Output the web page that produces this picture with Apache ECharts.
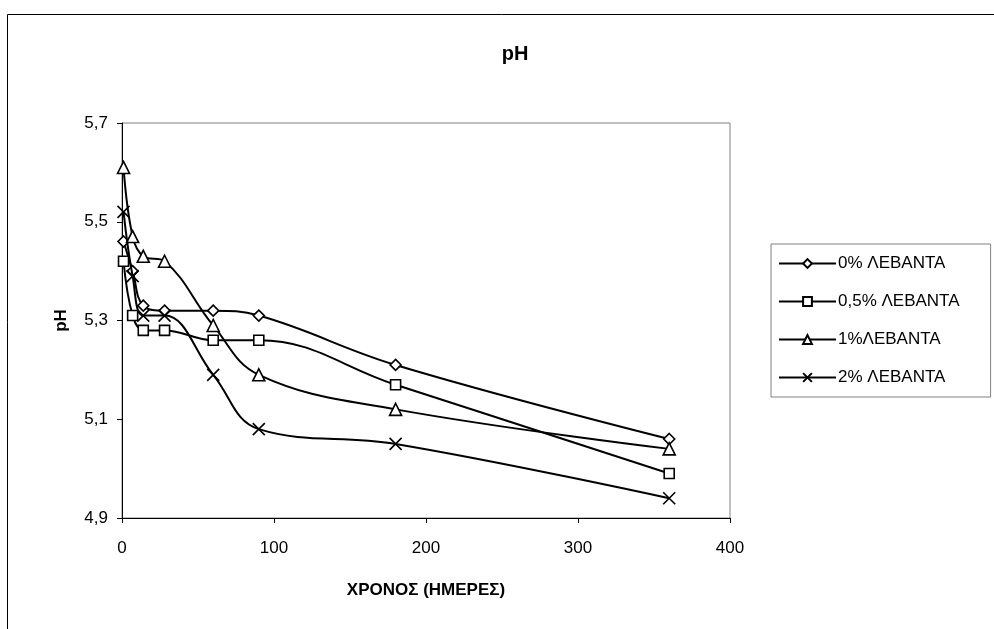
<!DOCTYPE html>
<html>
<head>
<meta charset="utf-8">
<script src="https://cdn.jsdelivr.net/npm/echarts@6/dist/echarts.min.js"></script>
<style>
  html, body { margin: 0; padding: 0; background: #fff; }
  #chart { width: 994px; height: 629px; }
</style>
</head>
<body>
<div id="chart"></div>
<script>
// χρόνος (ημέρες)
var days = [1, 7, 14, 28, 60, 90, 180, 360];
// pH ανά συγκέντρωση
var ph0 = [5.46, 5.40, 5.33, 5.32, 5.32, 5.31, 5.21, 5.06];
var ph05 = [5.42, 5.31, 5.28, 5.28, 5.26, 5.26, 5.17, 4.99];
var ph1 = [5.61, 5.47, 5.43, 5.42, 5.29, 5.19, 5.12, 5.04];
var ph2 = [5.52, 5.39, 5.31, 5.31, 5.19, 5.08, 5.05, 4.94];
var seriesNames = ['0% ΛΕΒΑΝΤΑ', '0,5% ΛΕΒΑΝΤΑ', '1%ΛΕΒΑΝΤΑ', '2% ΛΕΒΑΝΤΑ'];
var yTicks = [4.9, 5.1, 5.3, 5.5, 5.7];
var xTicks = [0, 100, 200, 300, 400];

var font = '"Liberation Sans", Arial, sans-serif';
var symbols = [
  'path://M0,-1L1,0L0,1L-1,0Z',
  'rect',
  'triangle',
  'path://M0,0L10,10M10,0L0,10'
];
var sizes = [11, 10, 12, 12];

function pairs(ys) {
  return days.map(function (d, i) { return [d, ys[i]]; });
}

var allData = [ph0, ph05, ph1, ph2];
var series = allData.map(function (ys, i) {
  return {
    name: seriesNames[i],
    type: 'line',
    smooth: 0.4,
    symbol: symbols[i],
    symbolSize: sizes[i],
    showAllSymbol: true,
    lineStyle: { color: '#000', width: 2 },
    itemStyle: { color: '#fff', borderColor: '#000', borderWidth: 1.6 },
    data: pairs(ys),
    z: 3 + i
  };
});

var myChart = echarts.init(document.getElementById('chart'));
myChart.setOption({
  animation: false,
  backgroundColor: '#fff',
  textStyle: { fontFamily: font, color: '#000' },
  graphic: [{
    type: 'rect',
    shape: { x: 7.5, y: 14.5, width: 1000, height: 640 },
    style: { fill: 'none', stroke: '#000', lineWidth: 1 },
    silent: true
  }],
  title: {
    text: 'pH',
    left: 510,
    top: 39,
    textAlign: 'center',
    textStyle: { fontFamily: font, fontSize: 20, fontWeight: 'bold', color: '#000' }
  },
  legend: {
    orient: 'vertical',
    left: 771,
    top: 244,
    padding: [11, 31, 11, 7],
    itemGap: 21,
    itemWidth: 57,
    itemHeight: 11,
    borderColor: '#808080',
    borderWidth: 1,
    textStyle: { fontFamily: font, fontSize: 17, color: '#000', padding: [0, 0, 0, -3] },
    data: seriesNames
  },
  grid: {
    left: 122,
    top: 123,
    width: 608,
    height: 395,
    show: true,
    borderColor: '#808080',
    borderWidth: 1,
    backgroundColor: '#fff'
  },
  xAxis: {
    type: 'value',
    min: 0,
    max: 400,
    interval: 100,
    name: 'ΧΡΟΝΟΣ (ΗΜΕΡΕΣ)',
    nameLocation: 'middle',
    nameGap: 64,
    nameTextStyle: { fontFamily: font, fontSize: 17, fontWeight: 'bold', color: '#000' },
    axisLine: { show: true, onZero: false, lineStyle: { color: '#000', width: 1 } },
    axisTick: { show: true, length: 5, lineStyle: { color: '#000' }, customValues: xTicks },
    axisLabel: { fontFamily: font, fontSize: 17, color: '#000', margin: 22, customValues: xTicks },
    splitLine: { show: false }
  },
  yAxis: {
    type: 'value',
    min: 4.9,
    max: 5.7,
    name: 'pH',
    nameLocation: 'middle',
    nameRotate: 90,
    nameGap: 52,
    nameTextStyle: { fontFamily: font, fontSize: 17, fontWeight: 'bold', color: '#000' },
    axisLine: { show: true, lineStyle: { color: '#000', width: 1 } },
    axisTick: { show: true, length: 5, lineStyle: { color: '#000' }, customValues: yTicks },
    axisLabel: {
      fontFamily: font, fontSize: 17, color: '#000', margin: 14,
      customValues: yTicks,
      formatter: function (v) { return v.toFixed(1).replace('.', ','); }
    },
    splitLine: { show: false }
  },
  series: series
});
</script>
</body>
</html>
